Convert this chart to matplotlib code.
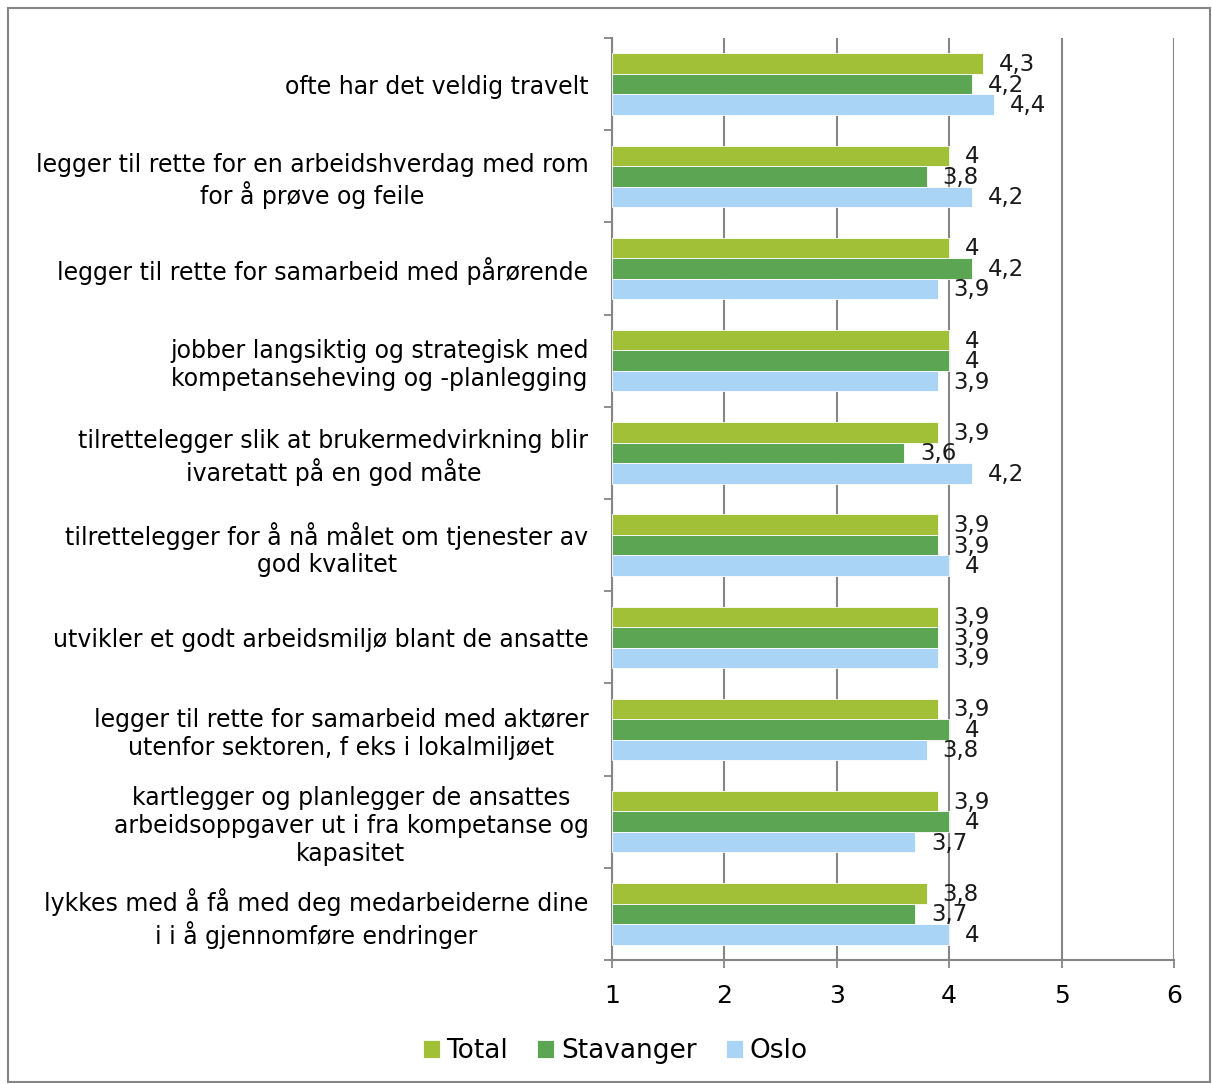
import numpy as np
import matplotlib
matplotlib.use("Agg")
import matplotlib.pyplot as plt
from matplotlib.patches import Rectangle

# Spørsmål og gjennomsnittsskårer per gruppe
categories = [
    "ofte har det veldig travelt",
    "legger til rette for en arbeidshverdag med rom\nfor å prøve og feile",
    "legger til rette for samarbeid med pårørende",
    "jobber langsiktig og strategisk med\nkompetanseheving og -planlegging",
    "tilrettelegger slik at brukermedvirkning blir\nivaretatt på en god måte",
    "tilrettelegger for å nå målet om tjenester av\ngod kvalitet",
    "utvikler et godt arbeidsmiljø blant de ansatte",
    "legger til rette for samarbeid med aktører\nutenfor sektoren, f eks i lokalmiljøet",
    "kartlegger og planlegger de ansattes\narbeidsoppgaver ut i fra kompetanse og\nkapasitet",
    "lykkes med å få med deg medarbeiderne dine\ni i å gjennomføre endringer",
]
total = [4.3, 4.0, 4.0, 4.0, 3.9, 3.9, 3.9, 3.9, 3.9, 3.8]
stavanger = [4.2, 3.8, 4.2, 4.0, 3.6, 3.9, 3.9, 4.0, 4.0, 3.7]
oslo = [4.4, 4.2, 3.9, 3.9, 4.2, 4.0, 3.9, 3.8, 3.7, 4.0]

series = [("Total", total, "#a2bf38"),
          ("Stavanger", stavanger, "#5ba553"),
          ("Oslo", oslo, "#a9d4f5")]

def fmt(v):
    s = f"{v:.1f}".rstrip("0").rstrip(".")
    return s.replace(".", ",")

fig = plt.figure(figsize=(12.12, 10.84), dpi=100)
ax = fig.add_axes([612 / 1212, 124 / 1084, 562 / 1212, 922 / 1084])

n = len(categories)
y = np.arange(n)
h = 0.222
for i, (name, vals, col) in enumerate(series):
    pos = y + (i - 1) * h
    widths = np.array(vals) - 1
    ax.barh(pos, widths, left=1, height=h, color=col, label=name,
            edgecolor="white", linewidth=0.6, zorder=3)
    for p, v in zip(pos, vals):
        ax.text(v + 0.14, p + 0.01, fmt(v), va="center", ha="left",
                fontsize=16.5, color="#1a1a1a", zorder=4)

ax.set_xlim(1, 6)
ax.set_ylim(n - 0.5, -0.5)
ax.set_xticks([1, 2, 3, 4, 5, 6])
ax.set_xticklabels(["1", "2", "3", "4", "5", "6"], fontsize=18)
ax.grid(axis="x", color="#868686", linewidth=1.5, zorder=0)
ax.tick_params(axis="x", direction="out", length=6, width=1.3,
               color="#868686", pad=11)

ax.set_yticks(y)
ax.set_yticklabels(categories, fontsize=17, linespacing=1.2,
                   multialignment="center")
ax.tick_params(axis="y", length=0, pad=17)
ax.set_yticks(np.arange(n + 1) - 0.5, minor=True)
ax.tick_params(axis="y", which="minor", direction="out", length=6,
               width=1.3, color="#868686")

for s in ["top", "right"]:
    ax.spines[s].set_visible(False)
for s in ["left", "bottom"]:
    ax.spines[s].set_color("#868686")
    ax.spines[s].set_linewidth(1.5)

ax.legend(loc="center", bbox_to_anchor=(615 / 1212, 1 - 1051 / 1084),
          bbox_transform=fig.transFigure, ncol=3, frameon=False,
          fontsize=19, handlelength=0.65, handleheight=0.65,
          handletextpad=0.25, columnspacing=1.1)

# grå ramme rundt hele figuren
fig.patches.append(Rectangle((8 / 1212, 2 / 1084), 1202 / 1212, 1074 / 1084,
                             transform=fig.transFigure, fill=False,
                             edgecolor="#868686", linewidth=1.5))

fig.savefig("out.png", dpi=100)
